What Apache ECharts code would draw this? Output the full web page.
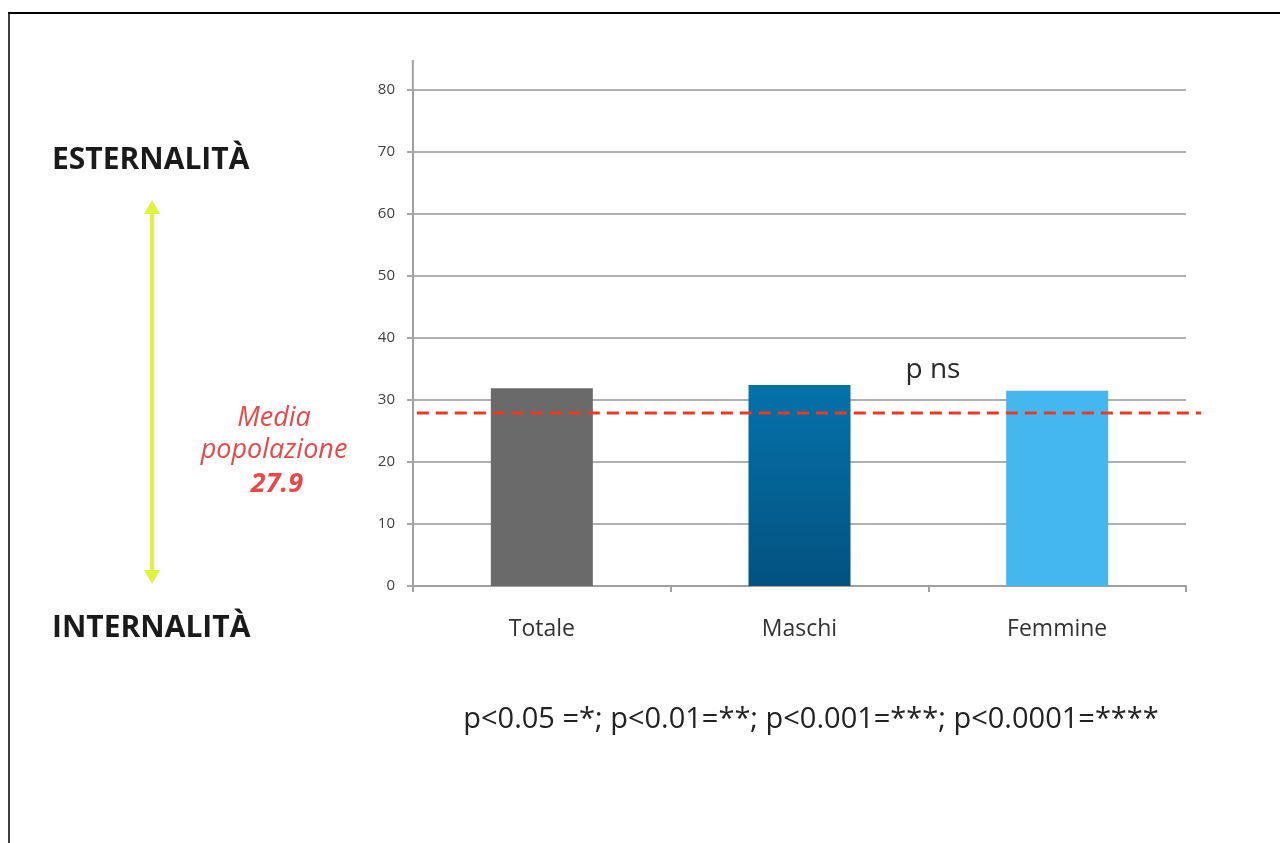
<!DOCTYPE html>
<html>
<head>
<meta charset="utf-8">
<title>Esternalità / Internalità</title>
<script src="https://cdn.jsdelivr.net/npm/echarts@6/dist/echarts.min.js"></script>
<style>
  html, body { margin: 0; padding: 0; background: #ffffff; }
  #chart { width: 1280px; height: 843px; }
</style>
</head>
<body>
<div id="chart"></div>
<script>
// Group means on the locus-of-control scale
const categories = ['Totale', 'Maschi', 'Femmine'];
const values = [31.9, 32.4, 31.5];
const populationMean = 27.9;
const yMin = 0;
const yMax = 80;
const yInterval = 10;

// Bar fills, one per category
const barFills = [
  '#6a6a6a',
  { type: 'linear', x: 0, y: 0, x2: 0, y2: 1,
    colorStops: [{ offset: 0, color: '#0472aa' }, { offset: 1, color: '#03527f' }] },
  '#44b8ee'
];

const FONT = '"Open Sans", "DejaVu Sans", sans-serif';

const chart = echarts.init(document.getElementById('chart'), null, { renderer: 'canvas' });

chart.setOption({
  backgroundColor: '#ffffff',
  animation: false,
  grid: { left: 413, right: 94, top: 90, bottom: 257, containLabel: false },
  xAxis: {
    type: 'category',
    data: categories,
    axisLine: { lineStyle: { color: '#a0a0a0', width: 2 } },
    axisTick: { show: true, length: 6, lineStyle: { color: '#a0a0a0', width: 2 } },
    axisLabel: { margin: 32, color: '#333333', fontSize: 23, fontFamily: FONT }
  },
  yAxis: {
    type: 'value',
    min: yMin,
    max: yMax,
    interval: yInterval,
    axisLine: { show: true, lineStyle: { color: '#a0a0a0', width: 2 } },
    axisTick: { show: true, length: 6, lineStyle: { color: '#a8a8a8', width: 2 } },
    axisLabel: { margin: 18, color: '#404040', fontSize: 15, fontFamily: FONT },
    splitLine: { show: true, lineStyle: { color: '#b0b0b0', width: 2 } }
  },
  series: [{
    type: 'bar',
    barWidth: 102,
    data: values.map((v, i) => ({ value: v, itemStyle: { color: barFills[i] } })),
    silent: true
  }]
});

// Annotations placed against the chart's own scale
const yPix = v => chart.convertToPixel({ yAxisIndex: 0 }, v);
const xLeft = chart.convertToPixel({ xAxisIndex: 0 }, categories[0]) - 129;
const xRight = chart.convertToPixel({ xAxisIndex: 0 }, categories[categories.length - 1]) + 129;
const meanY = yPix(populationMean);
const topY = yPix(yMax);

function label(x, y, text, font, fill, align) {
  return {
    type: 'text', silent: true, z: 10,
    style: {
      x, y, text, font, fill,
      textAlign: align || 'left', align: align || 'left',
      textVerticalAlign: 'middle', verticalAlign: 'middle'
    }
  };
}

const arrowX = 152;
const arrowTop = 200;
const arrowBottom = 584;
const lime = '#dcf43c';

chart.setOption({
  graphic: [
    // outer frame
    { type: 'line', silent: true, shape: { x1: 8, y1: 13, x2: 1280, y2: 13 },
      style: { stroke: '#000000', lineWidth: 2 } },
    { type: 'line', silent: true, shape: { x1: 9, y1: 12, x2: 9, y2: 843 },
      style: { stroke: '#000000', lineWidth: 1.5 } },
    // value axis continues a little above its last tick
    { type: 'line', silent: true, shape: { x1: xLeft, y1: topY - 30, x2: xLeft, y2: topY },
      style: { stroke: '#a0a0a0', lineWidth: 2 } },
    // population mean
    { type: 'line', silent: true, z: 20,
      shape: { x1: xLeft + 4, y1: meanY, x2: xRight + 15, y2: meanY },
      style: { stroke: '#ec3a22', lineWidth: 3, lineDash: [12, 7] } },
    label(274, 418, 'Media', 'italic 27px ' + FONT, '#e84848', 'center'),
    label(274, 450, 'popolazione', 'italic 27px ' + FONT, '#e84848', 'center'),
    label(277, 484, '27.9', 'italic bold 27px ' + FONT, '#e84848', 'center'),
    // scale direction
    label(52, 160, 'ESTERNALITÀ', 'bold 30px ' + FONT, '#1a1a1a', 'left'),
    label(52, 628, 'INTERNALITÀ', 'bold 30px ' + FONT, '#1a1a1a', 'left'),
    { type: 'line', silent: true, shape: { x1: arrowX, y1: arrowTop + 10, x2: arrowX, y2: arrowBottom - 10 },
      style: { stroke: lime, lineWidth: 4 } },
    { type: 'polygon', silent: true,
      shape: { points: [[arrowX, arrowTop], [arrowX - 8, arrowTop + 14], [arrowX + 8, arrowTop + 14]] },
      style: { fill: lime } },
    { type: 'polygon', silent: true,
      shape: { points: [[arrowX, arrowBottom], [arrowX - 8, arrowBottom - 14], [arrowX + 8, arrowBottom - 14]] },
      style: { fill: lime } },
    // significance
    label(933, 370, 'p ns', '28px ' + FONT, '#2a2a2a', 'center'),
    label(811, 720, 'p<0.05 =*; p<0.01=**; p<0.001=***; p<0.0001=****', '29px ' + FONT, '#222222', 'center')
  ]
});
</script>
</body>
</html>
